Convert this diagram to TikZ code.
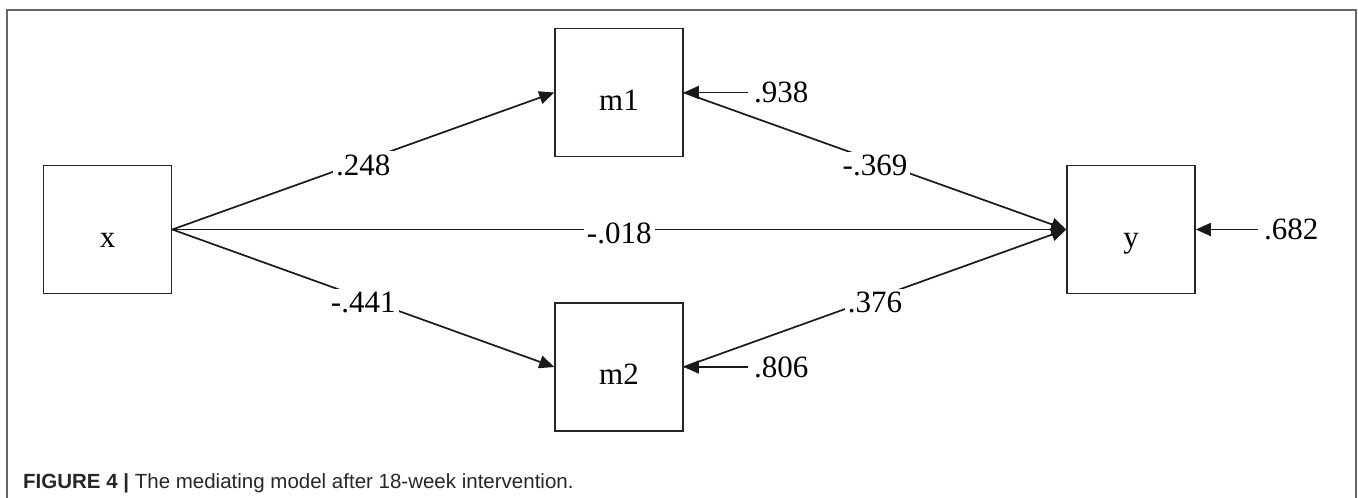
\documentclass[tikz,border=0pt]{standalone}
\usepackage{fontspec}
\setmainfont{Liberation Serif}
\newfontfamily\capfont{Liberation Sans}
\usetikzlibrary{arrows.meta}
\begin{document}
\begin{tikzpicture}[x=1pt,y=-1pt,
  box/.style={draw=black!85, line width=1.6pt, minimum width=128pt, minimum height=128pt,
    inner sep=0pt, text height=35pt, text depth=0pt, font=\fontsize{31}{37}\selectfont},
  link/.style={line width=1.7pt, draw=black!90, -{Triangle[length=15pt,width=13pt]}},
  coef/.style={font=\fontsize{31}{37}\selectfont, inner sep=3pt, fill=white, yshift=-4pt},
  resid/.style={font=\fontsize{31}{37}\selectfont, inner sep=6pt, anchor=west},
  frame/.style={line width=1.5pt, draw=black!60}]
\useasboundingbox (0,0) rectangle (1358,498);
\draw[frame] (7,498) -- (7,10) -- (1356,10) -- (1356,498);
\node[box] (x)  at (107.5,229.5) {x};
\node[box] (m1) at (619,92.5) {m1};
\node[box] (m2) at (619,367) {m2};
\node[box] (y)  at (1131,229.5) {y};
\node[resid] (e1) at (748,92.5) {.938};
\node[resid] (e2) at (748,367) {.806};
\node[resid] (e3) at (1258,229.5) {.682};
\draw[link] (x.east) -- node[coef] {.248} (m1.west);
\draw[link] (x.east) -- node[coef] {-.441} (m2.west);
\draw[link] (x.east) -- node[coef] {-.018} (y.west);
\draw[link] (m1.east) -- node[coef] {-.369} (y.west);
\draw[link] (m2.east) -- node[coef] {.376} (y.west);
\draw[link] (e1.west) -- (m1.east);
\draw[link] (e2.west) -- (m2.east);
\draw[link] (e3.west) -- (y.east);
\node[anchor=base west, inner sep=0pt, text=black!85, font=\capfont\fontsize{20.5}{24}\selectfont] (cap) at (23,488)
  {\textbf{FIGURE 4 |} The mediating model after 18-week intervention.};
\end{tikzpicture}
\end{document}
